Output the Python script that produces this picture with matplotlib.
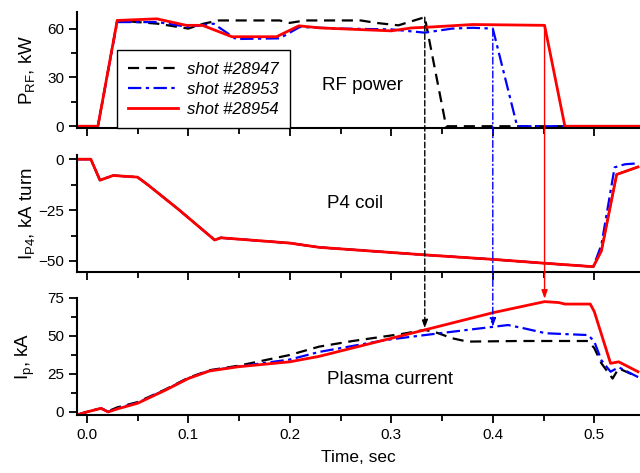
import matplotlib
matplotlib.use('Agg')
import matplotlib.pyplot as plt
from matplotlib.patches import ConnectionPatch
from matplotlib.ticker import MultipleLocator

plt.rcParams['font.family'] = ['Liberation Sans', 'DejaVu Sans']
plt.rcParams['mathtext.default'] = 'regular'

# --- RF power, kW
t_rf_47 = [-0.01, 0.011, 0.030, 0.05, 0.07, 0.09, 0.10, 0.115, 0.13, 0.19, 0.20, 0.215, 0.24, 0.27, 0.285, 0.307, 0.333, 0.354, 0.545]
p_rf_47 = [0, 0, 65, 64, 63, 61, 60, 63, 65, 65, 63.5, 65, 65, 65, 63.5, 62, 67, 0, 0]
t_rf_53 = [-0.01, 0.011, 0.030, 0.07, 0.10, 0.125, 0.147, 0.19, 0.21, 0.25, 0.30, 0.333, 0.36, 0.38, 0.40, 0.424, 0.545]
p_rf_53 = [0, 0, 64, 64, 61, 63, 53.6, 54, 61, 60, 59.5, 57.5, 60, 60.5, 60, 0, 0]
t_rf_54 = [-0.01, 0.011, 0.030, 0.069, 0.098, 0.114, 0.143, 0.187, 0.209, 0.23, 0.30, 0.32, 0.34, 0.38, 0.451, 0.471, 0.545]
p_rf_54 = [0, 0, 65, 66, 62, 62, 55, 55, 61.7, 60.4, 58.6, 60.4, 61, 62.5, 62, 0, 0]

# --- P4 coil current, kA turn
t_p4 = [-0.01, 0.004, 0.013, 0.026, 0.05, 0.06, 0.09, 0.126, 0.132, 0.2, 0.229, 0.333, 0.4, 0.451, 0.499, 0.507, 0.522, 0.543]
i_p4_54 = [0, 0, -10.3, -8, -8.8, -12.5, -24.5, -39.7, -38.6, -41.2, -43.3, -47, -49.2, -51.1, -52.8, -45, -7.5, -3.8]
t_p4b = [-0.01, 0.004, 0.013, 0.026, 0.05, 0.06, 0.09, 0.126, 0.132, 0.2, 0.229, 0.333, 0.4, 0.451, 0.499, 0.507, 0.52, 0.53, 0.543]
i_p4_53 = [0, 0, -10.3, -8, -8.8, -12.5, -24.5, -39.7, -38.6, -41.2, -43.3, -47, -49.2, -51.1, -52.8, -42, -4, -2.5, -2]

# --- plasma current, kA
t_ip_54 = [-0.01, 0.0, 0.014, 0.021, 0.03, 0.05, 0.078, 0.10, 0.121, 0.15, 0.20, 0.229, 0.333, 0.40, 0.451, 0.465, 0.471, 0.496, 0.50, 0.516, 0.524, 0.543]
ip_54 = [-2, 0, 2.4, 0, 2, 5.7, 14.5, 22, 27, 29.8, 33, 36.6, 54, 65.3, 72.6, 72, 71, 71, 66, 32, 33, 26.5]
t_ip_47 = [-0.01, 0.0, 0.014, 0.021, 0.03, 0.05, 0.078, 0.10, 0.121, 0.15, 0.20, 0.229, 0.262, 0.31, 0.333, 0.343, 0.36, 0.375, 0.425, 0.494, 0.50, 0.507, 0.518, 0.524, 0.543]
ip_47 = [-2, 0, 2.4, 0.5, 3, 6.5, 15, 22.5, 27.5, 30.5, 37.5, 43, 46.7, 51.3, 54, 52.6, 48.5, 46.3, 46.7, 46.7, 42, 32, 22, 28.7, 23]
t_ip_53 = [-0.01, 0.0, 0.014, 0.021, 0.03, 0.05, 0.078, 0.10, 0.121, 0.15, 0.20, 0.229, 0.295, 0.333, 0.375, 0.40, 0.415, 0.431, 0.452, 0.494, 0.50, 0.507, 0.516, 0.524, 0.543]
ip_53 = [-2, 0, 2.4, 0.2, 2.5, 6, 14.8, 22.2, 27.2, 30, 34.5, 39.5, 47.4, 50.6, 54, 56, 57.2, 55, 51.8, 50.6, 46.3, 34, 26.5, 29.4, 23]

labels = ['shot #28947', 'shot #28953', 'shot #28954']
# arrow markers: (time, value in RF panel, value in Ip panel)
arrows = [(0.333, 67, 55), (0.40, 59.5, 56), (0.451, 62, 74.5)]

s47 = dict(color='black', ls=(0, (5, 3)), lw=1.6)
s53 = dict(color='blue', ls=(0, (6, 2, 1.5, 2)), lw=1.6)
s54 = dict(color='red', ls='-', lw=2.0)

fig = plt.figure(figsize=(6.4, 4.73), dpi=100)
ax1 = fig.add_axes([0.120, 0.729, 0.88, 0.246])
ax2 = fig.add_axes([0.120, 0.425, 0.88, 0.247])
ax3 = fig.add_axes([0.120, 0.1226, 0.88, 0.2474])

ax1.plot(t_rf_47, p_rf_47, **s47, label=labels[0])
ax1.plot(t_rf_53, p_rf_53, **s53, label=labels[1])
ax1.plot(t_rf_54, p_rf_54, **s54, label=labels[2])

ax2.plot(t_p4, i_p4_54, color='black', lw=1.4)
ax2.plot(t_p4b, i_p4_53, **s53)
ax2.plot(t_p4, i_p4_54, **s54)

ax3.plot(t_ip_47, ip_47, **s47)
ax3.plot(t_ip_53, ip_53, **s53)
ax3.plot(t_ip_54, ip_54, **s54)

ax1.set_ylim(-1.2, 70.3)
ax2.set_ylim(-55.4, 2)
ax3.set_ylim(-2, 75)
ax1.yaxis.set_major_locator(MultipleLocator(30))
ax1.yaxis.set_minor_locator(MultipleLocator(15))
ax2.yaxis.set_major_locator(MultipleLocator(25))
ax2.yaxis.set_minor_locator(MultipleLocator(12.5))
ax3.yaxis.set_major_locator(MultipleLocator(25))
ax3.yaxis.set_minor_locator(MultipleLocator(12.5))

for ax in (ax1, ax2, ax3):
    ax.set_xlim(-0.0098, 0.545)
    ax.xaxis.set_major_locator(MultipleLocator(0.1))
    ax.xaxis.set_minor_locator(MultipleLocator(0.05))
    ax.spines['top'].set_visible(False)
    ax.spines['right'].set_visible(False)
    ax.spines['left'].set_linewidth(1.5)
    ax.spines['bottom'].set_linewidth(1.5)
    ax.tick_params(which='major', length=6, width=1.3, labelsize=11, colors='black', pad=3)
    ax.tick_params(which='minor', length=4, width=1.3)
    ax.patch.set_alpha(0)
ax1.tick_params(axis='x', labelbottom=False)
ax2.tick_params(axis='x', labelbottom=False)
ax3.xaxis.set_major_formatter(matplotlib.ticker.FormatStrFormatter('%.1f'))

ax1.set_ylabel('P$_{RF}$, kW', fontsize=13.5)
ax2.set_ylabel('I$_{P4}$, kA turn', fontsize=13.5)
ax3.set_ylabel('I$_p$, kA', fontsize=13.5)
for ax in (ax1, ax2, ax3):
    ax.yaxis.set_label_coords(-0.07, 0.5)
ax3.set_xlabel('Time, sec', fontsize=12.5, labelpad=6)

ax1.text(0.435, 0.37, 'RF power', transform=ax1.transAxes, fontsize=13.5, va='center')
ax2.text(0.444, 0.59, 'P4 coil', transform=ax2.transAxes, fontsize=13.5, va='center')
ax3.text(0.444, 0.30, 'Plasma current', transform=ax3.transAxes, fontsize=13.5, va='center')

leg = ax1.legend(loc='lower left', bbox_to_anchor=(0.071, 0.0), borderaxespad=0,
                 fancybox=False, edgecolor='black', framealpha=1,
                 prop={'style': 'italic', 'size': 12}, handlelength=3.0,
                 labelspacing=0.3, borderpad=0.7, handletextpad=0.5)
leg.get_frame().set_linewidth(1.0)

# vertical arrows linking RF cutoff to plasma current
styles = [dict(color='black', ls=(0, (4, 2))), dict(color='blue', ls=(0, (5, 2, 1, 2))), dict(color='red', ls='-')]
for (t, yt, yb), st in zip(arrows, styles):
    cp = ConnectionPatch(xyA=(t, yt), coordsA=ax1.transData, xyB=(t, yb), coordsB=ax3.transData,
                         arrowstyle='-|>,head_length=0.5,head_width=0.18', lw=1.0, zorder=5,
                         mutation_scale=10, **st)
    fig.add_artist(cp)

fig.savefig('out.png', dpi=100)
